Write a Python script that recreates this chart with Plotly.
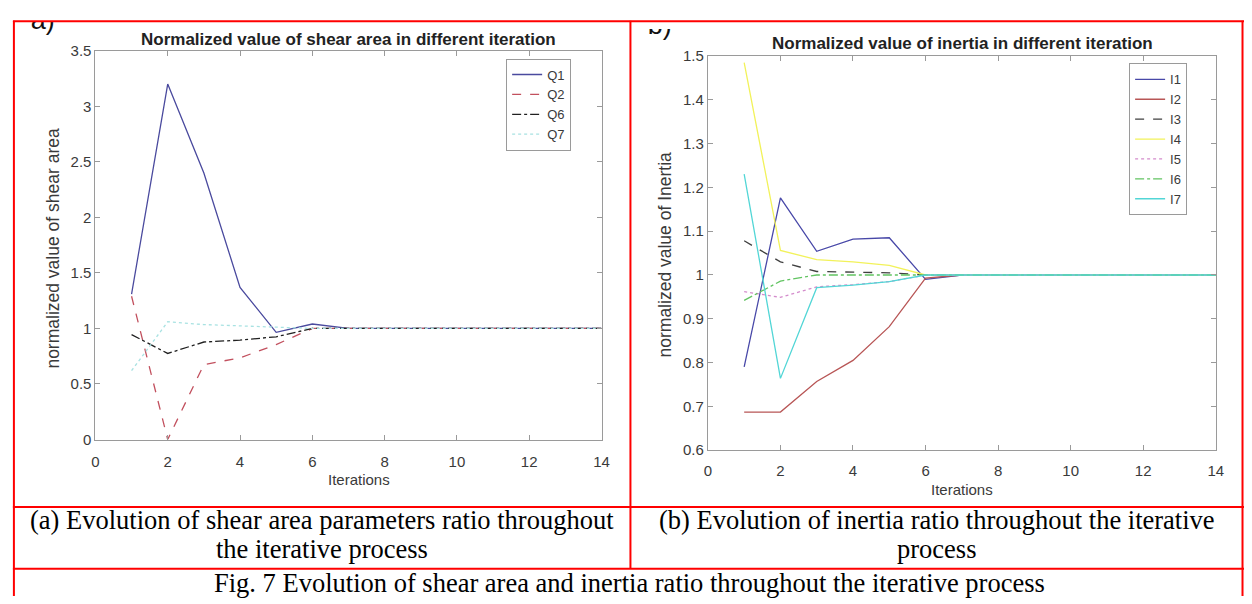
import plotly.graph_objects as go

# ---- data -------------------------------------------------------------
iterations = list(range(1, 15))

q1 = [1.31, 3.20, 2.40, 1.37, 0.965, 1.04] + [1.0] * 8
q2 = [1.29, 0.00, 0.675, 0.735, 0.855, 1.0] + [1.0] * 8
q6 = [0.945, 0.775, 0.878, 0.895, 0.925, 1.0] + [1.0] * 8
q7 = [0.62, 1.06, 1.035, 1.025, 1.01, 1.0] + [1.0] * 8

i1 = [0.790, 1.176, 1.054, 1.082, 1.085, 0.990] + [1.0] * 8
i2 = [0.687, 0.687, 0.757, 0.805, 0.882, 0.993] + [1.0] * 8
i3 = [1.078, 1.030, 1.008, 1.007, 1.005, 1.0] + [1.0] * 8
i4 = [1.485, 1.056, 1.035, 1.030, 1.022, 1.0] + [1.0] * 8
i5 = [0.962, 0.949, 0.973, 0.978, 0.985, 1.0] + [1.0] * 8
i6 = [0.942, 0.986, 1.000, 1.000, 1.000, 1.0] + [1.0] * 8
i7 = [1.230, 0.764, 0.971, 0.977, 0.985, 1.0] + [1.0] * 8

x_ticks = [0, 2, 4, 6, 8, 10, 12, 14]
shear_ticks = [0, 0.5, 1, 1.5, 2, 2.5, 3, 3.5]
shear_tick_text = ["0", "0.5", "1", "1.5", "2", "2.5", "3", "3.5"]
inertia_ticks = [0.6, 0.7, 0.8, 0.9, 1.0, 1.1, 1.2, 1.3, 1.4, 1.5]
inertia_tick_text = ["0.6", "0.7", "0.8", "0.9", "1", "1.1", "1.2", "1.3", "1.4", "1.5"]

# ---- page geometry ----------------------------------------------------
W, H = 1252, 604


def fx(x):
    return x / W


def fy(y):
    return 1 - y / H


SANS = "Liberation Sans, Arial, sans-serif"
SERIF = "Liberation Serif, Times New Roman, serif"
AXIS_GREY = "#9a9a9a"
TEXT_GREY = "#3a3a3a"

fig = go.Figure()

shear_series = [
    ("Q1", q1, "#4a4a9e", "solid"),
    ("Q2", q2, "#c2505e", "dash"),
    ("Q6", q6, "#202020", "dashdot"),
    ("Q7", q7, "#a8e2e2", "dot"),
]
for name, vals, color, dash in shear_series:
    fig.add_trace(go.Scatter(
        x=iterations, y=vals, name=name, mode="lines",
        line=dict(color=color, width=1.3, dash=dash),
        xaxis="x", yaxis="y", legend="legend",
    ))

inertia_series = [
    ("I1", i1, "#4848a8", "solid"),
    ("I2", i2, "#b85656", "solid"),
    ("I3", i3, "#404040", "dash"),
    ("I4", i4, "#f2f25a", "solid"),
    ("I5", i5, "#d48ccc", "dot"),
    ("I6", i6, "#62c462", "dashdot"),
    ("I7", i7, "#52d6d6", "solid"),
]
for name, vals, color, dash in inertia_series:
    fig.add_trace(go.Scatter(
        x=iterations, y=vals, name=name, mode="lines",
        line=dict(color=color, width=1.3, dash=dash),
        xaxis="x2", yaxis="y2", legend="legend2",
    ))

# panel letters, cut off along the top of each panel
fig.add_trace(go.Scatter(
    x=[27], y=[14], text=["a)"], mode="text", textposition="middle right",
    textfont=dict(family=SANS, size=27, color="#111111"),
    cliponaxis=True, showlegend=False, hoverinfo="skip",
    xaxis="x3", yaxis="y3",
))
fig.add_trace(go.Scatter(
    x=[650], y=[19], text=["b)"], mode="text", textposition="middle right",
    textfont=dict(family=SANS, size=27, color="#111111"),
    cliponaxis=True, showlegend=False, hoverinfo="skip",
    xaxis="x4", yaxis="y4",
))

axis_common = dict(
    showline=True, linecolor=AXIS_GREY, linewidth=1, mirror="ticks",
    ticks="inside", ticklen=5, tickcolor=AXIS_GREY, tickwidth=1,
    showgrid=False, zeroline=False,
    tickfont=dict(family=SANS, size=15, color=TEXT_GREY),
)

legend_common = dict(
    xanchor="left", yanchor="top",
    bgcolor="white", bordercolor=AXIS_GREY, borderwidth=1,
    font=dict(family=SANS, size=13, color=TEXT_GREY),
    itemwidth=30, tracegroupgap=0,
)

fig.update_layout(
    width=W, height=H,
    margin=dict(l=0, r=0, t=0, b=0),
    paper_bgcolor="white", plot_bgcolor="white",
    showlegend=True,
    xaxis=dict(domain=[fx(92.3), fx(603.3)], range=[0, 14], anchor="y",
               tickvals=x_ticks, ticklabelstandoff=8, **axis_common),
    yaxis=dict(domain=[fy(443), fy(43)], range=[0, 3.5], anchor="x",
               tickvals=shear_ticks, ticktext=shear_tick_text, **axis_common),
    xaxis2=dict(domain=[fx(710.7), fx(1223.5)], range=[0, 14], anchor="y2",
                tickvals=x_ticks, ticklabelstandoff=7, **axis_common),
    yaxis2=dict(domain=[fy(454), fy(48.3)], range=[0.6, 1.5], anchor="x2",
                tickvals=inertia_ticks, ticktext=inertia_tick_text, **axis_common),
    xaxis3=dict(domain=[fx(15), fx(60)], range=[15, 60], anchor="y3", visible=False),
    yaxis3=dict(domain=[fy(36), fy(13.5)], range=[36, 13.5], anchor="x3", visible=False),
    xaxis4=dict(domain=[fx(640), fx(676)], range=[640, 676], anchor="y4", visible=False),
    yaxis4=dict(domain=[fy(40), fy(20.5)], range=[40, 20.5], anchor="x4", visible=False),
    legend=dict(x=fx(507), y=fy(51), **legend_common),
    legend2=dict(x=fx(1136), y=fy(56), **legend_common),
)

annotations = [
    # plot titles
    dict(x=fx(348), y=fy(31), text="<b>Normalized value of shear area in different iteration</b>",
         font=dict(family=SANS, size=17, color="#222222")),
    dict(x=fx(968), y=fy(36), text="<b>Normalized value of inertia in different iteration</b>",
         font=dict(family=SANS, size=17, color="#222222")),
    # axis titles
    dict(x=fx(358), y=fy(484), text="Iterations",
         font=dict(family=SANS, size=15, color=TEXT_GREY)),
    dict(x=fx(967), y=fy(494), text="Iterations",
         font=dict(family=SANS, size=15, color=TEXT_GREY)),
    dict(x=fx(50), y=fy(246), text="normalized value of shear area", textangle=-90,
         font=dict(family=SANS, size=17.5, color=TEXT_GREY)),
    dict(x=fx(667), y=fy(253), text="normalized value of Inertia", textangle=-90,
         font=dict(family=SANS, size=17.5, color=TEXT_GREY)),
    # captions
    dict(x=fx(321), y=fy(526), text="(a) Evolution of shear area parameters ratio throughout",
         font=dict(family=SERIF, size=26.5, color="#000000")),
    dict(x=fx(321), y=fy(556), text="the iterative process",
         font=dict(family=SERIF, size=26.5, color="#000000")),
    dict(x=fx(942), y=fy(526), text="(b) Evolution of inertia ratio throughout the iterative",
         font=dict(family=SERIF, size=26.5, color="#000000")),
    dict(x=fx(942), y=fy(556), text="process",
         font=dict(family=SERIF, size=26.5, color="#000000")),
    dict(x=fx(632), y=fy(591), text="Fig. 7 Evolution of shear area and inertia ratio throughout the iterative process",
         font=dict(family=SERIF, size=26.5, color="#000000")),
]
for a in annotations:
    a.update(xref="paper", yref="paper", showarrow=False, xanchor="center", yanchor="middle")
fig.update_layout(annotations=annotations)

# red table rules
RED = "#ff0000"
rules = [
    (9, 12.5, 1252, 12.5),      # top
    (10, 12, 10, 604),          # left
    (1250.5, 12, 1250.5, 604),  # right
    (632.5, 12, 632.5, 576),    # middle divider
    (9, 512.5, 1252, 512.5),    # under the plots
    (9, 576, 1252, 576),        # under the sub-captions
]
shapes = []
for x0, y0, x1, y1 in rules:
    shapes.append(dict(type="line", xref="paper", yref="paper",
                       x0=fx(x0), y0=fy(y0), x1=fx(x1), y1=fy(y1),
                       line=dict(color=RED, width=2), layer="above"))
fig.update_layout(shapes=shapes)

fig.write_html("out.html")
